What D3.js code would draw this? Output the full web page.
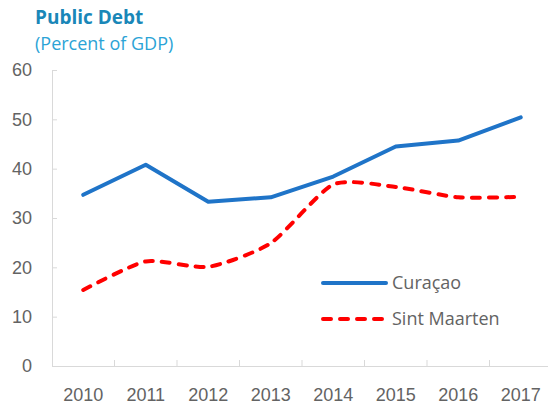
<!DOCTYPE html>
<html>
<head>
<meta charset="utf-8">
<script src="https://cdn.jsdelivr.net/npm/d3@7"></script>
<style>
  body { margin: 0; background: #fff; }
  svg { display: block; font-family: "Open Sans", "Noto Sans", sans-serif; }
</style>
</head>
<body>
<div id="chart"></div>
<script>
var years = ['2010', '2011', '2012', '2013', '2014', '2015', '2016', '2017'];
var curacao = [34.7, 40.8, 33.3, 34.2, 38.4, 44.5, 45.7, 50.4];
var sintMaarten = [15.4, 21.2, 20.1, 24.9, 36.8, 36.3, 34.2, 34.3];
var yTicks = [0, 10, 20, 30, 40, 50, 60];

var width = 548, height = 404;
var margin = {left: 52, top: 70, bottom: 38};
var plotW = 500, plotH = height - margin.top - margin.bottom;

var svg = d3.select('#chart').append('svg')
  .attr('width', width).attr('height', height);

svg.append('text').attr('x', 35).attr('y', 24)
  .style('font-size', '19px').style('font-weight', 'bold').style('fill', '#1a87b8')
  .text('Public Debt');
svg.append('text').attr('x', 35).attr('y', 50)
  .style('font-size', '18px').style('fill', '#2ba3d6')
  .text('(Percent of GDP)');

var g = svg.append('g').attr('transform', 'translate(' + margin.left + ',' + margin.top + ')');

var x = d3.scaleBand().domain(years).range([0, plotW]);
var y = d3.scaleLinear().domain([0, 60]).range([plotH, 0]);

// y axis, ticks point inward
g.append('g').call(d3.axisLeft(y).tickValues(yTicks).tickSize(-5).tickPadding(20).tickSizeOuter(0));
// x axis, labels centred, ticks on category boundaries
var xAxis = g.append('g').attr('transform', 'translate(0,' + plotH + ')')
  .call(d3.axisBottom(x).tickSize(0).tickPadding(22));
xAxis.selectAll('.tick line').remove();
xAxis.selectAll('.tick').filter(function(d, i) { return i > 0; }).append('line')
  .attr('x1', -x.bandwidth() / 2).attr('x2', -x.bandwidth() / 2)
  .attr('y1', 0).attr('y2', -6);

g.selectAll('.domain, .tick line').attr('stroke', '#d9d9d9');
g.selectAll('.tick text').style('font-size', '18px').style('fill', '#636363');

var cx = function(d, i) { return x(years[i]) + x.bandwidth() / 2; };

g.append('path').datum(curacao)
  .attr('fill', 'none').attr('stroke', '#1f74c8').attr('stroke-width', 4)
  .attr('stroke-linejoin', 'round').attr('stroke-linecap', 'round')
  .attr('d', d3.line().x(cx).y(function(d) { return y(d); }));

g.append('path').datum(sintMaarten)
  .attr('fill', 'none').attr('stroke', '#ff0000').attr('stroke-width', 4)
  .attr('stroke-dasharray', '8,9').attr('stroke-linecap', 'round')
  .attr('d', d3.line().x(cx).y(function(d) { return y(d); }).curve(d3.curveCardinal.tension(0.35)));

// legend
var legend = svg.append('g').attr('transform', 'translate(323,283)');
var items = [
  {name: 'Curaçao', color: '#1f74c8', dash: null},
  {name: 'Sint Maarten', color: '#ff0000', dash: '8,9'}
];
legend.selectAll('g').data(items).enter().append('g')
  .attr('transform', function(d, i) { return 'translate(0,' + (i * 36) + ')'; })
  .each(function(d) {
    var el = d3.select(this);
    el.append('line').attr('x1', 0).attr('x2', 63).attr('y1', 0).attr('y2', 0)
      .attr('stroke', d.color).attr('stroke-width', 4).attr('stroke-linecap', 'round')
      .attr('stroke-dasharray', d.dash);
    el.append('text').attr('x', 69).attr('y', 6)
      .style('font-size', '18px').style('fill', '#636363').text(d.name);
  });
</script>
</body>
</html>
